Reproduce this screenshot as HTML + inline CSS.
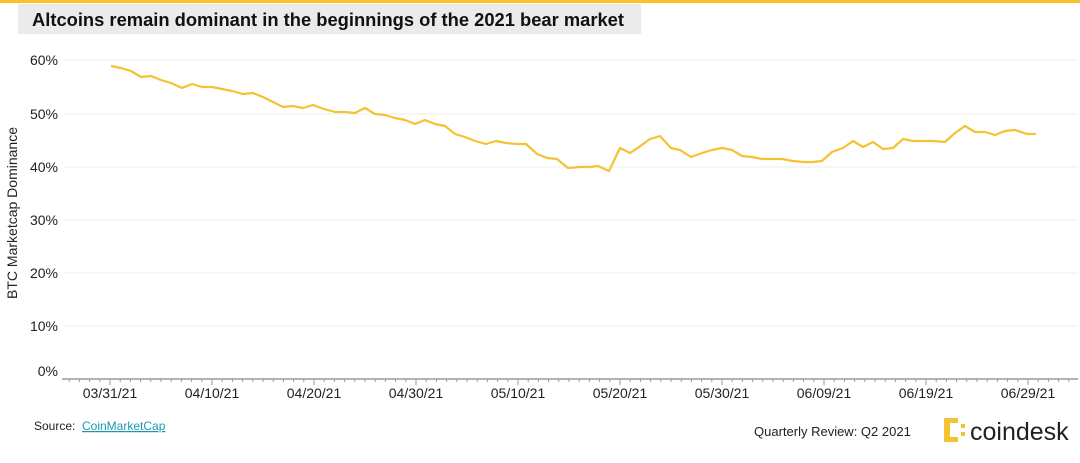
<!DOCTYPE html>
<html><head><meta charset="utf-8"><style>
body{margin:0;width:1080px;height:458px;background:#fff;overflow:hidden;font-family:"Liberation Sans",Arial,sans-serif;}
</style></head><body>
<svg width="1080" height="458" xmlns="http://www.w3.org/2000/svg" font-family="Liberation Sans, Arial, sans-serif">
<rect x="0" y="0" width="1080" height="3" fill="#f7c325"/>
<rect x="18" y="4" width="623" height="30" fill="#ebebeb"/>
<text x="32" y="26" font-size="18" font-weight="bold" fill="#111" textLength="592" lengthAdjust="spacingAndGlyphs">Altcoins remain dominant in the beginnings of the 2021 bear market</text>
<g stroke="#eeeeee" stroke-width="1">
<line x1="64" x2="1078" y1="60" y2="60"/><line x1="64" x2="1078" y1="114" y2="114"/>
<line x1="64" x2="1078" y1="167" y2="167"/><line x1="64" x2="1078" y1="220" y2="220"/>
<line x1="64" x2="1078" y1="273" y2="273"/><line x1="64" x2="1078" y1="326" y2="326"/>
</g>
<g font-size="14" fill="#222" text-anchor="end">
<text x="58" y="65">60%</text><text x="58" y="119">50%</text><text x="58" y="172">40%</text>
<text x="58" y="225">30%</text><text x="58" y="278">20%</text><text x="58" y="331">10%</text>
<text x="58" y="376">0%</text>
</g>
<text transform="translate(17,213) rotate(-90)" font-size="14" fill="#222" text-anchor="middle">BTC Marketcap Dominance</text>
<line x1="62" x2="1078" y1="379" y2="379" stroke="#999" stroke-width="1.5"/>
<g id="ticks" stroke="#999" stroke-width="1"></g>
<g font-size="14" fill="#222" text-anchor="middle">
<text x="110" y="398">03/31/21</text><text x="212" y="398">04/10/21</text><text x="314" y="398">04/20/21</text>
<text x="416" y="398">04/30/21</text><text x="518" y="398">05/10/21</text><text x="620" y="398">05/20/21</text>
<text x="722" y="398">05/30/21</text><text x="824" y="398">06/09/21</text><text x="926" y="398">06/19/21</text>
<text x="1028" y="398">06/29/21</text>
</g>
<polyline fill="none" stroke="#f4c232" stroke-width="2.2" stroke-linejoin="round" points="111,66 121,68 131,71 141,77 151,76 161,80 171,83 182,88 192,84 202,87 212,87 222,89 232,91 243,94 253,93 263,97 273,102 283,107 293,106 303,108 313,105 324,109 335,112 345,112 355,113 365,108 375,114 385,115 395,118 405,120 415,124 425,120 435,124 445,126 455,134 465,137 475,141 486,144 496,141 506,143 516,144 526,144 537,154 547,158 557,159 568,168 580,167 590,167 598,166 609,171 620,148 630,153 639,147 650,139 660,136 671,148 680,150 691,157 702,153 712,150 722,148 732,150 742,156 752,157 762,159 782,159 793,161 803,162 813,162 822,161 832,152 843,148 853,141 863,147 873,142 883,149 893,148 903,139 913,141 933,141 945,142 955,133 965,126 975,132 985,132 995,135 1005,131 1015,130 1027,134 1036,134"/>
<text x="34" y="430" font-size="12" fill="#222">Source:</text>
<text x="82" y="430" font-size="12" fill="#1a9ab0" text-decoration="underline">CoinMarketCap</text>
<text x="754" y="436" font-size="13" fill="#222">Quarterly Review: Q2 2021</text>
<g fill="#f4c232">
<rect x="944" y="418" width="6" height="24"/><rect x="950" y="418" width="8" height="5"/><rect x="950" y="437" width="8" height="5"/>
<rect x="961" y="424" width="4" height="4"/><rect x="961" y="432" width="4" height="4"/>
</g>
<text x="970" y="440" font-size="25" fill="#222">coindesk</text>
</svg>
<script>
var g=document.getElementById('ticks'),s='';
for(var i=-4;i<100;i++){var x=110+i*10.2;if(x<64||x>1076)continue;var l=(i%10==0)?6:3;s+='<line x1="'+x+'" x2="'+x+'" y1="379" y2="'+(379+l)+'"/>';}
g.innerHTML=s;
</script>
</body></html>
